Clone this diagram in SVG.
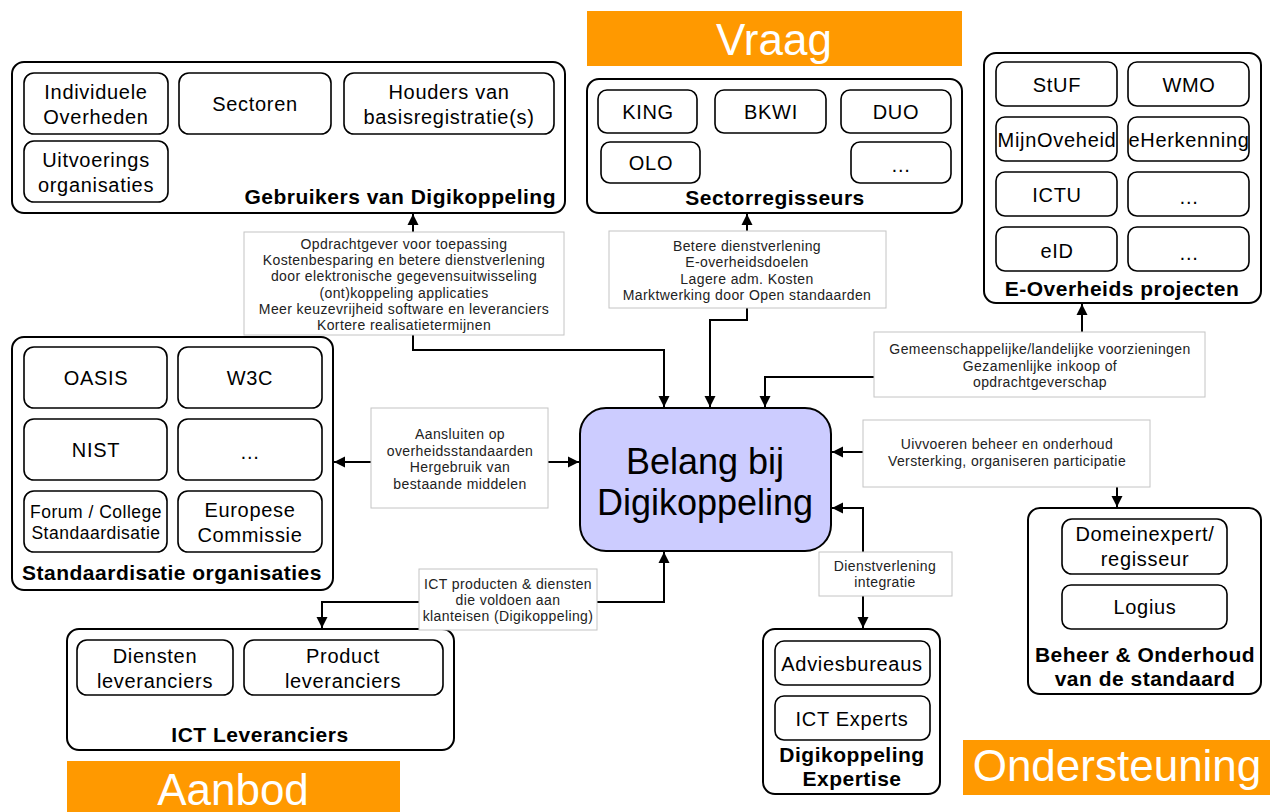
<svg xmlns="http://www.w3.org/2000/svg" width="1270" height="812" viewBox="0 0 1270 812">
<style>
.grp{fill:#fff;stroke:#000;stroke-width:2}
.inr{fill:#fff;stroke:#000;stroke-width:1.6}
.lbl{fill:#fff;stroke:#c4c4c4;stroke-width:1}
.ban{fill:#FF9900}
text{font-family:"Liberation Sans",Arial,sans-serif;text-anchor:middle;fill:#000}
.t{font-size:20px;letter-spacing:0.7px}
.tf{font-size:17.5px;letter-spacing:0.5px}
.tb{font-size:21px;font-weight:bold;letter-spacing:0.5px}
.ts{font-size:14px;letter-spacing:0.4px;fill:#222}
.tc{font-size:36px}
.tw{font-size:44px;fill:#fff}
.con{fill:none;stroke:#000;stroke-width:2}
.arr{marker-end:url(#ah)}
</style>
<defs>
<marker id="ah" markerUnits="userSpaceOnUse" markerWidth="12" markerHeight="12" viewBox="0 0 12 12" refX="11" refY="6" orient="auto">
<path d="M0,0.5 L11,6 L0,11.5 z" fill="#000"/>
</marker>
</defs>

<g id="banner-vraag">
<rect class="ban" x="587" y="11" width="375" height="55"/>
<text class="tw" x="774" y="55">Vraag</text>
</g>
<g id="banner-aanbod">
<rect class="ban" x="67" y="761" width="333" height="51"/>
<text class="tw" x="233" y="805">Aanbod</text>
</g>
<g id="banner-ondersteuning">
<rect class="ban" x="963" y="740" width="307" height="55"/>
<text class="tw" x="1117" y="781">Ondersteuning</text>
</g>

<g id="gebruikers">
<rect class="grp" x="12" y="62" width="553" height="151" rx="12"/>
<rect class="inr" x="24" y="73" width="144" height="61" rx="10"/>
<text class="t" x="96" y="99">Individuele<tspan x="96" dy="25">Overheden</tspan></text>
<rect class="inr" x="179" y="73" width="152" height="61" rx="10"/>
<text class="t" x="255" y="111">Sectoren</text>
<rect class="inr" x="344" y="73" width="210" height="61" rx="10"/>
<text class="t" x="449" y="99">Houders van<tspan x="449" dy="25">basisregistratie(s)</tspan></text>
<rect class="inr" x="24" y="141" width="144" height="61" rx="10"/>
<text class="t" x="96" y="167">Uitvoerings<tspan x="96" dy="25">organisaties</tspan></text>
<text class="tb" x="556" y="204" style="text-anchor:end">Gebruikers van Digikoppeling</text>
</g>

<g id="sectorregisseurs">
<rect class="grp" x="587" y="79" width="375" height="134" rx="12"/>
<rect class="inr" x="598" y="90" width="99" height="43" rx="9"/>
<text class="t" x="648" y="119">KING</text>
<rect class="inr" x="715" y="90" width="111" height="43" rx="9"/>
<text class="t" x="771" y="119">BKWI</text>
<rect class="inr" x="841" y="90" width="110" height="43" rx="9"/>
<text class="t" x="896" y="119">DUO</text>
<rect class="inr" x="601" y="142" width="99" height="41" rx="9"/>
<text class="t" x="651" y="170">OLO</text>
<rect class="inr" x="851" y="142" width="100" height="41" rx="9"/>
<text class="t" x="901" y="172">…</text>
<text class="tb" x="775" y="205">Sectorregisseurs</text>
</g>

<g id="e-overheids-projecten">
<rect class="grp" x="984" y="53" width="277" height="250" rx="12"/>
<rect class="inr" x="996" y="62" width="121" height="44" rx="9"/>
<text class="t" x="1057" y="92">StUF</text>
<rect class="inr" x="1128" y="62" width="121" height="44" rx="9"/>
<text class="t" x="1189" y="92">WMO</text>
<rect class="inr" x="996" y="117" width="121" height="44" rx="9"/>
<text class="t" x="1057" y="147">MijnOveheid</text>
<rect class="inr" x="1128" y="117" width="121" height="44" rx="9"/>
<text class="t" x="1189" y="147">eHerkenning</text>
<rect class="inr" x="996" y="172" width="121" height="44" rx="9"/>
<text class="t" x="1057" y="202">ICTU</text>
<rect class="inr" x="1128" y="172" width="121" height="44" rx="9"/>
<text class="t" x="1189" y="204">…</text>
<rect class="inr" x="996" y="227" width="121" height="44" rx="9"/>
<text class="t" x="1057" y="258">eID</text>
<rect class="inr" x="1128" y="227" width="121" height="44" rx="9"/>
<text class="t" x="1189" y="260">…</text>
<text class="tb" x="1122" y="296">E-Overheids projecten</text>
</g>

<g id="standaardisatie">
<rect class="grp" x="12" y="337" width="321" height="253" rx="12"/>
<rect class="inr" x="24" y="347" width="143" height="61" rx="10"/>
<text class="t" x="96" y="385">OASIS</text>
<rect class="inr" x="178" y="347" width="144" height="61" rx="10"/>
<text class="t" x="250" y="385">W3C</text>
<rect class="inr" x="24" y="419" width="143" height="61" rx="10"/>
<text class="t" x="96" y="457">NIST</text>
<rect class="inr" x="178" y="419" width="144" height="61" rx="10"/>
<text class="t" x="250" y="459">…</text>
<rect class="inr" x="24" y="491" width="143" height="61" rx="10"/>
<text class="tf" x="96" y="518">Forum / College<tspan x="96" dy="21">Standaardisatie</tspan></text>
<rect class="inr" x="178" y="491" width="144" height="61" rx="10"/>
<text class="t" x="250" y="517">Europese<tspan x="250" dy="25">Commissie</tspan></text>
<text class="tb" x="172" y="580">Standaardisatie organisaties</text>
</g>

<g id="belang">
<rect x="580" y="408" width="251" height="143" rx="26" fill="#CCCCFF" stroke="#000" stroke-width="2"/>
<text class="tc" x="705" y="474">Belang bij</text>
<text class="tc" x="705" y="515">Digikoppeling</text>
</g>

<g id="ict-leveranciers">
<rect class="grp" x="67" y="629" width="387" height="121" rx="12"/>
<rect class="inr" x="77" y="640" width="156" height="55" rx="10"/>
<text class="t" x="155" y="663">Diensten<tspan x="155" dy="25">leveranciers</tspan></text>
<rect class="inr" x="244" y="640" width="199" height="55" rx="10"/>
<text class="t" x="343" y="663">Product<tspan x="343" dy="25">leveranciers</tspan></text>
<text class="tb" x="260" y="742">ICT Leveranciers</text>
</g>

<g id="expertise">
<rect class="grp" x="763" y="629" width="177" height="165" rx="12"/>
<rect class="inr" x="775" y="641" width="155" height="44" rx="9"/>
<text class="t" x="852" y="671">Adviesbureaus</text>
<rect class="inr" x="775" y="696" width="155" height="44" rx="9"/>
<text class="t" x="852" y="726">ICT Experts</text>
<text class="tb" x="852" y="762">Digikoppeling<tspan x="852" dy="24">Expertise</tspan></text>
</g>

<g id="beheer">
<rect class="grp" x="1028" y="508" width="233" height="186" rx="12"/>
<rect class="inr" x="1062" y="519" width="165" height="55" rx="10"/>
<text class="t" x="1145" y="541">Domeinexpert/<tspan x="1145" dy="25">regisseur</tspan></text>
<rect class="inr" x="1062" y="585" width="165" height="44" rx="9"/>
<text class="t" x="1145" y="614">Logius</text>
<text class="tb" x="1145" y="662">Beheer &amp; Onderhoud<tspan x="1145" dy="24">van de standaard</tspan></text>
</g>

<g id="connectors">
<path class="con arr" d="M413,232 V214"/>
<path class="con arr" d="M413,335 V350 H664 V407"/>
<path class="con arr" d="M747,231 V214"/>
<path class="con arr" d="M747,308 V320 H710 V407"/>
<path class="con arr" d="M1082,332 V304"/>
<path class="con arr" d="M874,377 H765 V407"/>
<path class="con arr" d="M863,452 H832"/>
<path class="con arr" d="M1117,487 V507"/>
<path class="con arr" d="M371,462 H334"/>
<path class="con arr" d="M548,462 H579"/>
<path class="con arr" d="M597,602 H664 V552"/>
<path class="con arr" d="M419,602 H322 V628"/>
<path class="con arr" d="M863,552 V508 H832"/>
<path class="con arr" d="M863,596 V628"/>
</g>

<g id="label-gebruikers">
<rect class="lbl" x="244" y="232" width="320" height="103"/>
<text class="ts" x="404" y="249">Opdrachtgever voor toepassing<tspan x="404" dy="16.2">Kostenbesparing en betere dienstverlening</tspan><tspan x="404" dy="16.2">door elektronische gegevensuitwisseling</tspan><tspan x="404" dy="16.2">(ont)koppeling applicaties</tspan><tspan x="404" dy="16.2">Meer keuzevrijheid software en leveranciers</tspan><tspan x="404" dy="16.2">Kortere realisatietermijnen</tspan></text>
</g>
<g id="label-sector">
<rect class="lbl" x="609" y="231" width="277" height="77"/>
<text class="ts" x="747" y="251">Betere dienstverlening<tspan x="747" dy="16.4">E-overheidsdoelen</tspan><tspan x="747" dy="16.4">Lagere adm. Kosten</tspan><tspan x="747" dy="16.4">Marktwerking door Open standaarden</tspan></text>
</g>
<g id="label-eoverheid">
<rect class="lbl" x="874" y="332" width="331" height="65"/>
<text class="ts" x="1040" y="354">Gemeenschappelijke/landelijke voorzieningen<tspan x="1040" dy="16.5">Gezamenlijke inkoop of</tspan><tspan x="1040" dy="16.5">opdrachtgeverschap</tspan></text>
</g>
<g id="label-beheer">
<rect class="lbl" x="863" y="420" width="287" height="67"/>
<text class="ts" x="1007" y="449">Uivvoeren beheer en onderhoud<tspan x="1007" dy="16.5">Versterking, organiseren participatie</tspan></text>
</g>
<g id="label-standaard">
<rect class="lbl" x="371" y="408" width="177" height="100"/>
<text class="ts" x="460" y="439">Aansluiten op<tspan x="460" dy="16.5">overheidsstandaarden</tspan><tspan x="460" dy="16.5">Hergebruik van</tspan><tspan x="460" dy="16.5">bestaande middelen</tspan></text>
</g>
<g id="label-ict">
<rect class="lbl" x="419" y="569" width="178" height="61"/>
<text class="ts" x="508" y="589">ICT producten &amp; diensten<tspan x="508" dy="16">die voldoen aan</tspan><tspan x="508" dy="16">klanteisen (Digikoppeling)</tspan></text>
</g>
<g id="label-expertise">
<rect class="lbl" x="819" y="552" width="133" height="44"/>
<text class="ts" x="885" y="571">Dienstverlening<tspan x="885" dy="16">integratie</tspan></text>
</g>
</svg>
